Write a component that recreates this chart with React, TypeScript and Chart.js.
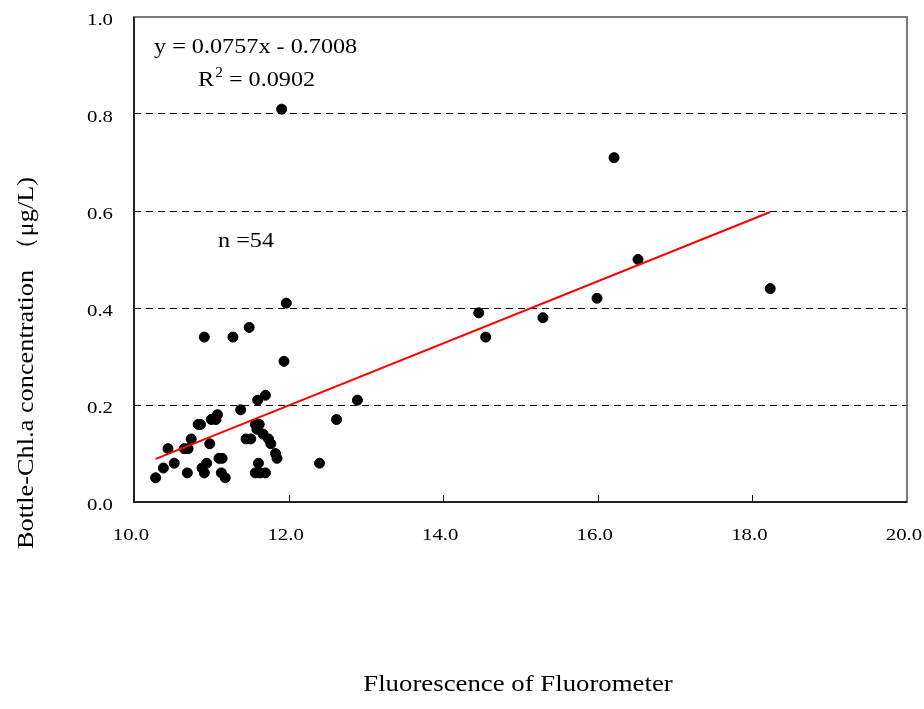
import React, { useEffect, useRef } from "react";
import { Chart, registerables } from "chart.js";

Chart.register(...registerables);

const fluorX: number[] = [
  11.91, 16.21, 16.52, 15.99, 18.23, 15.29, 14.46, 14.55, 11.97, 10.91,
  11.28, 11.49, 11.94, 11.70, 11.60, 11.38, 12.89, 12.62, 12.40,
  10.28, 10.38, 10.52, 10.44, 10.69, 10.65, 10.70, 10.74, 10.83, 10.86,
  11.00, 11.08, 11.06, 10.98, 10.88, 10.94, 10.91, 11.10, 11.14, 11.13, 11.18,
  11.57, 11.59, 11.45, 11.51, 11.67, 11.74, 11.77, 11.83, 11.85, 11.61,
  11.57, 11.63, 11.70, 11.62,
];
const chlY: number[] = [
  0.81, 0.71, 0.50, 0.42, 0.44, 0.38, 0.39, 0.34, 0.41, 0.34,
  0.34, 0.36, 0.29, 0.22, 0.21, 0.19, 0.21, 0.17, 0.08,
  0.05, 0.07, 0.08, 0.11, 0.06, 0.11, 0.11, 0.13, 0.16, 0.16,
  0.17, 0.18, 0.17, 0.12, 0.07, 0.08, 0.06, 0.09, 0.09, 0.06, 0.05,
  0.16, 0.15, 0.13, 0.13, 0.14, 0.13, 0.12, 0.10, 0.09, 0.08,
  0.06, 0.06, 0.06, 0.16,
];
const trendX: number[] = [10.28, 18.23];
const trendY: number[] = [0.089, 0.598];
const xTicks: number[] = [10, 12, 14, 16, 18, 20];
const yTicks: number[] = [0, 0.2, 0.4, 0.6, 0.8, 1.0];
const xTickLabels: string[] = ["10.0", "12.0", "14.0", "16.0", "18.0", "20.0"];
const yTickLabels: string[] = ["0.0", "0.2", "0.4", "0.6", "0.8", "1.0"];

const equationText = "y = 0.0757x - 0.7008";
const r2Label = "R";
const r2Sup = "2";
const r2Value = " = 0.0902";
const nText = "n =54";
const xTitle = "Fluorescence of Fluorometer";
const yTitle = "Bottle-Chl.a concentration （μg/L)";

const FONT = '"Liberation Serif", "DejaVu Serif", serif';

function stretched(
  ctx: CanvasRenderingContext2D,
  text: string,
  x: number,
  y: number,
  size: number,
  sx: number,
  align: CanvasTextAlign = "left"
): number {
  ctx.save();
  ctx.font = `${size}px ${FONT}`;
  ctx.textAlign = align;
  ctx.textBaseline = "alphabetic";
  ctx.translate(x, y);
  ctx.scale(sx, 1);
  ctx.fillText(text, 0, 0);
  const w = ctx.measureText(text).width * sx;
  ctx.restore();
  return w;
}

const decorPlugin = {
  id: "decor",
  beforeDatasetsDraw(chart: any) {
    const { ctx, chartArea } = chart;
    const { left, right, top, bottom } = chartArea;
    const xs = chart.scales.x;
    ctx.save();
    ctx.strokeStyle = "#000";
    ctx.lineWidth = 1;
    xTicks.forEach((v, i) => {
      if (i === 0 || i === xTicks.length - 1) return;
      const px = Math.round(xs.getPixelForValue(v)) + 0.5;
      ctx.beginPath();
      ctx.moveTo(px, bottom);
      ctx.lineTo(px, bottom - 7);
      ctx.stroke();
    });
    ctx.strokeStyle = "#7a7a7a";
    ctx.lineWidth = 2;
    ctx.strokeRect(left, top, right - left, bottom - top);
    ctx.strokeStyle = "#222";
    ctx.beginPath();
    ctx.moveTo(left, top);
    ctx.lineTo(left, bottom);
    ctx.lineTo(right, bottom);
    ctx.stroke();
    ctx.restore();
  },
  afterDraw(chart: any) {
    const { ctx, chartArea } = chart;
    const xs = chart.scales.x;
    const ys = chart.scales.y;
    ctx.save();
    ctx.fillStyle = "#000";
    // tick labels
    xTicks.forEach((v, i) => {
      stretched(ctx, xTickLabels[i], xs.getPixelForValue(v) - 3, chartArea.bottom + 38, 16, 1.3, "center");
    });
    yTicks.forEach((v, i) => {
      stretched(ctx, yTickLabels[i], chartArea.left - 21, ys.getPixelForValue(v) + 8, 16, 1.3, "right");
    });
    // annotations
    stretched(ctx, equationText, 154, 53, 22, 1.1);
    let x = 198;
    x += stretched(ctx, r2Label, x, 86, 22, 1.1);
    x += stretched(ctx, r2Sup, x + 1, 77, 14, 1.1) + 1;
    stretched(ctx, r2Value, x, 86, 22, 1.1);
    stretched(ctx, nText, 218, 247, 22, 1.1);
    // axis titles
    stretched(ctx, xTitle, 518, 691, 23.5, 1.14, "center");
    ctx.translate(33, 363);
    ctx.rotate(-Math.PI / 2);
    stretched(ctx, yTitle, 0, 0, 23.5, 1.12, "center");
    ctx.restore();
  },
};

export default function App() {
  const ref = useRef<HTMLCanvasElement>(null);
  useEffect(() => {
    const canvas = ref.current;
    if (!canvas) return;
    const points = fluorX.map((x, i) => ({ x, y: chlY[i] }));
    const line = trendX.map((x, i) => ({ x, y: trendY[i] }));
    const chart = new Chart(canvas, {
      type: "scatter",
      data: {
        datasets: [
          {
            type: "line",
            data: line,
            borderColor: "#ff0000",
            borderWidth: 2,
            pointRadius: 0,
            fill: false,
          } as any,
          {
            data: points,
            backgroundColor: "#000",
            borderColor: "#000",
            pointRadius: 5,
            pointHoverRadius: 5,
          },
        ],
      },
      options: {
        responsive: false,
        animation: false,
        layout: { padding: { left: 0, top: 17, right: 17, bottom: 0 } },
        plugins: {
          legend: { display: false },
          tooltip: { enabled: false },
        },
        scales: {
          x: {
            type: "linear",
            min: 10,
            max: 20,
            afterBuildTicks: (s: any) => {
              s.ticks = xTicks.map((v) => ({ value: v }));
            },
            afterFit: (s: any) => {
              s.height = 207;
            },
            grid: { display: false, drawTicks: false },
            border: { display: false },
            ticks: { display: false },
          },
          y: {
            type: "linear",
            min: 0,
            max: 1,
            afterBuildTicks: (s: any) => {
              s.ticks = yTicks.map((v) => ({ value: v }));
            },
            afterFit: (s: any) => {
              s.width = 134;
            },
            grid: {
              drawTicks: false,
              color: (c: any) =>
                c.tick && (c.tick.value <= 0.001 || c.tick.value >= 0.999)
                  ? "rgba(0,0,0,0)"
                  : "#000",
              lineWidth: 1,
            },
            border: { display: false, dash: [7, 5] },
            ticks: { display: false },
          },
        },
      },
      plugins: [decorPlugin],
    });
    return () => chart.destroy();
  }, []);
  return (
    <div style={{ position: "fixed", left: 0, top: 0, width: 924, height: 709, background: "#fff" }}>
      <canvas ref={ref} width={924} height={709} style={{ width: 924, height: 709 }} />
    </div>
  );
}
